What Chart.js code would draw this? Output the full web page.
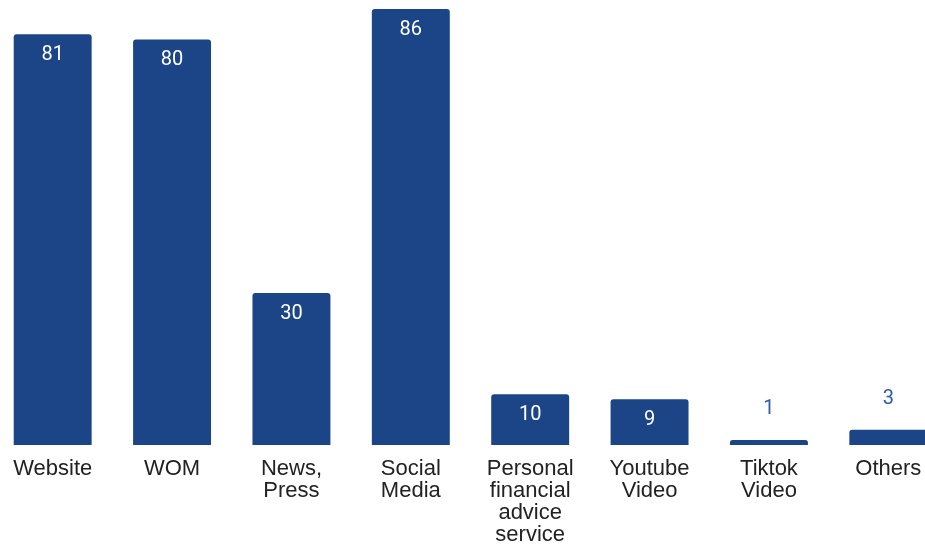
<!DOCTYPE html>
<html>
<head>
<meta charset="utf-8">
<script src="https://cdn.jsdelivr.net/npm/chart.js@4/dist/chart.umd.min.js"></script>
<style>
  html, body { margin: 0; padding: 0; background: #ffffff; overflow: hidden; }
  #wrap { position: absolute; left: -7px; top: 0; width: 955px; height: 546px; }
</style>
</head>
<body>
<div id="wrap"><canvas id="chart" width="955" height="546"></canvas></div>
<script>
// Information channels and how many respondents named each one
const categories = [
  'Website',
  'WOM',
  ['News,', 'Press'],
  ['Social', 'Media'],
  ['Personal', 'financial', 'advice', 'service'],
  ['Youtube', 'Video'],
  ['Tiktok', 'Video'],
  'Others'
];
const counts = [81, 80, 30, 86, 10, 9, 1, 3];

const BAR_COLOR = '#1c4587';

// Writes each count at the top of its bar: white inside tall bars, blue above short ones
const valueLabels = {
  id: 'valueLabels',
  afterDatasetsDraw(chart) {
    const ctx = chart.ctx;
    const meta = chart.getDatasetMeta(0);
    ctx.save();
    ctx.textAlign = 'center';
    ctx.textBaseline = 'middle';
    meta.data.forEach((bar, i) => {
      const v = chart.data.datasets[0].data[i];
      const h = bar.base - bar.y;
      ctx.font = '400 20px Roboto';
      if (h > 30) {
        ctx.fillStyle = '#ffffff';
        ctx.fillText(String(v), bar.x, bar.y + 21);
      } else {
        ctx.fillStyle = '#2d5ca6';
        ctx.fillText(String(v), bar.x, bar.y - 31);
      }
    });
    ctx.restore();
  }
};

new Chart(document.getElementById('chart'), {
  type: 'bar',
  data: {
    labels: categories,
    datasets: [{
      data: counts,
      backgroundColor: BAR_COLOR,
      borderRadius: { topLeft: 3, topRight: 3, bottomLeft: 0, bottomRight: 0 },
      borderSkipped: 'start',
      categoryPercentage: 1,
      barPercentage: 0.653
    }]
  },
  options: {
    responsive: false,
    animation: false,
    devicePixelRatio: 1,
    layout: { padding: { top: 9, left: 0, right: 0, bottom: 0 } },
    plugins: {
      legend: { display: false },
      tooltip: { enabled: false },
      title: { display: false }
    },
    scales: {
      x: {
        grid: { display: false },
        border: { display: false },
        ticks: {
          color: '#222222',
          font: { family: 'Liberation Sans', size: 22, lineHeight: 1.0 },
          padding: 5,
          maxRotation: 0,
          autoSkip: false
        },
        afterFit(scale) { scale.height = 101; }
      },
      y: {
        display: false,
        min: 0,
        max: 86
      }
    }
  },
  plugins: [valueLabels]
});
</script>
</body>
</html>
